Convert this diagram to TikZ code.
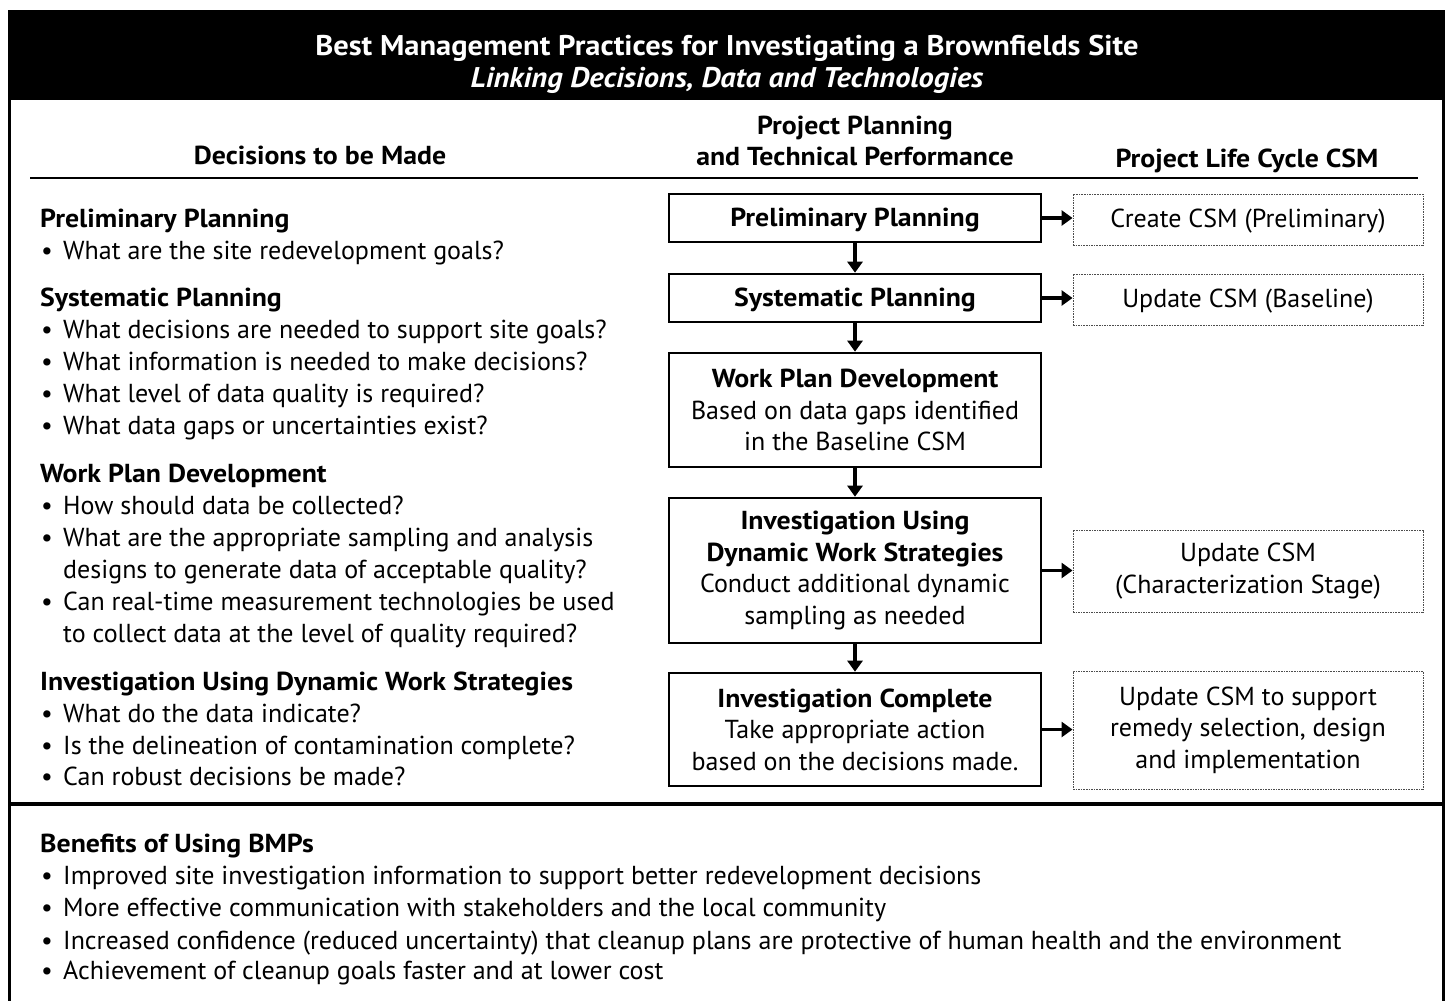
\documentclass[tikz,border=0pt]{standalone}
\usepackage{fontspec}
\setmainfont{PT Sans}[BoldFeatures={FakeStretch=1.07},BoldItalicFeatures={FakeStretch=1.07}]
\usetikzlibrary{arrows.meta}
\newcommand\myitem[4]{%
  \node[txt] (#1b) at (#2,#3) {•};
  \node[txt] (#1) at ([xshift=22pt]#2,#3) {#4};}
\begin{document}
\begin{tikzpicture}[x=1pt,y=-1pt,
  txt/.style={anchor=base west, inner sep=0pt, font=\fontsize{26}{31}\selectfont},
  hdg/.style={anchor=base west, inner sep=0pt, font=\fontsize{26}{31}\selectfont\bfseries},
  colhd/.style={anchor=base, inner sep=0pt, font=\fontsize{26}{31}\selectfont\bfseries},
  stage/.style={draw, line width=2.6pt, minimum width=372pt, align=center, inner sep=0pt,
    font=\fontsize{26}{31.5}\selectfont},
  csm/.style={draw=black!70, line width=0.9pt, dash pattern=on 1.6pt off 1pt,
    minimum width=350pt, align=center, inner sep=0pt, font=\fontsize{26}{31.5}\selectfont},
  flow/.style={line width=3.2pt, -{Triangle[length=11pt,width=15pt]}}
]
\useasboundingbox (0,0) rectangle (1451,1001);
\fill[white] (0,0) rectangle (1451,1001);
% frame
\fill[black] (8,10) rectangle (1445,100);
\draw[line width=3pt] (9.5,100) -- (9.5,1001);
\draw[line width=3.5pt] (1443.5,100) -- (1443.5,1001);
\draw[line width=4pt] (8,804) -- (1445,804);
\draw[line width=1.3pt] (30,178) -- (1418,178);
% title
\node[colhd, text=white, font=\fontsize{28.5}{31}\selectfont\bfseries] (t1) at (727,55) {Best Management Practices for Investigating a Brownfields Site};
\node[colhd, text=white, font=\fontsize{28.5}{31}\selectfont\bfseries\itshape] (t2) at (727,87) {Linking Decisions, Data and Technologies};
% column heads
\node[colhd] (h1) at (320,164) {Decisions to be Made};
\node[colhd] (h2a) at (855,134) {Project Planning};
\node[colhd] (h2b) at (855,165) {and Technical Performance};
\node[colhd] (h3) at (1247,167) {Project Life Cycle CSM};
% left column
\node[hdg] (l1) at (40,227) {Preliminary Planning};
\myitem{l1a}{41}{259}{What are the site redevelopment goals?}
\node[hdg] (l2) at (40,306) {Systematic Planning};
\myitem{l2a}{41}{338}{What decisions are needed to support site goals?}
\myitem{l2b}{41}{370}{What information is needed to make decisions?}
\myitem{l2c}{41}{402}{What level of data quality is required?}
\myitem{l2d}{41}{434}{What data gaps or uncertainties exist?}
\node[hdg] (l3) at (40,482) {Work Plan Development};
\myitem{l3a}{41}{514}{How should data be collected?}
\myitem{l3b}{41}{546}{What are the appropriate sampling and analysis}
\node[txt] (l3b2) at (63,578) {designs to generate data of acceptable quality?};
\myitem{l3c}{41}{610}{Can real-time measurement technologies be used}
\node[txt] (l3c2) at (63,642) {to collect data at the level of quality required?};
\node[hdg] (l4) at (40,690) {Investigation Using Dynamic Work Strategies};
\myitem{l4a}{41}{722}{What do the data indicate?}
\myitem{l4b}{41}{754}{Is the delineation of contamination complete?}
\myitem{l4c}{41}{785}{Can robust decisions be made?}
% middle column
\node[stage, minimum height=48pt, text depth=2pt] (b1) at (855,218) {\bfseries Preliminary Planning};
\node[stage, minimum height=48pt, text depth=2pt] (b2) at (855,298) {\bfseries Systematic Planning};
\node[stage, minimum height=114pt] (b3) at (855,410) {\textbf{Work Plan Development}\\Based on data gaps identified\\in the Baseline CSM};
\node[stage, minimum height=145pt] (b4) at (855,570.5) {\textbf{Investigation Using}\\\textbf{Dynamic Work Strategies}\\Conduct additional dynamic\\sampling as needed};
\node[stage, minimum height=113pt] (b5) at (855,729.5) {\textbf{Investigation Complete}\\Take appropriate action\\based on the decisions made.};
% right column
\node[csm, minimum height=51pt, text depth=2pt] (c1) at (1248,219.5) {Create CSM (Preliminary)};
\node[csm, minimum height=51pt, text depth=2pt] (c2) at (1248,299.5) {Update CSM (Baseline)};
\node[csm, minimum height=82pt] (c4) at (1248,571) {Update CSM\\(Characterization Stage)};
\node[csm, minimum height=118pt] (c5) at (1248,730) {Update CSM to support\\remedy selection, design\\and implementation};
% arrows
\draw[flow] (b1.south) -- (b2.north);
\draw[flow] (b2.south) -- (b3.north);
\draw[flow] (b3.south) -- (b4.north);
\draw[flow] (b4.south) -- (b5.north);
\draw[flow] (b1.east) -- (b1.east -| c1.west);
\draw[flow] (b2.east) -- (b2.east -| c2.west);
\draw[flow] (b4.east) -- (b4.east -| c4.west);
\draw[flow] (b5.east) -- (b5.east -| c5.west);
% benefits
\node[hdg] (bh) at (40,852) {Benefits of Using BMPs};
\myitem{bn1}{41}{884}{Improved site investigation information to support better redevelopment decisions}
\myitem{bn2}{41}{916}{More effective communication with stakeholders and the local community}
\myitem{bn3}{41}{949}{Increased confidence (reduced uncertainty) that cleanup plans are protective of human health and the environment}
\myitem{bn4}{41}{979}{Achievement of cleanup goals faster and at lower cost}
\end{tikzpicture}
\end{document}
